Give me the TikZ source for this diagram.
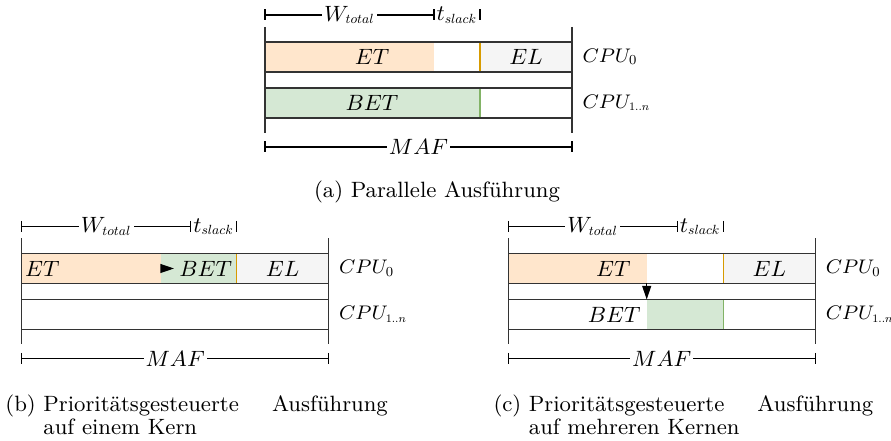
\documentclass[tikz,border=0pt]{standalone}
\usepackage{graphicx}
\usetikzlibrary{arrows.meta}
\definecolor{etfill}{HTML}{FFE6CC}
\definecolor{etline}{HTML}{D79B00}
\definecolor{betfill}{HTML}{D5E8D4}
\definecolor{betline}{HTML}{82B366}
\definecolor{elfill}{HTML}{F5F5F5}
\definecolor{edge}{HTML}{333333}

\tikzset{
  frame/.style={draw=edge, line width=0.6pt},
  dimline/.style={draw=black, line width=0.5pt},
  dimtick/.style={draw=black, line width=0.5pt},
  dimlabel/.style={fill=white, inner sep=0.8pt, font=\small},
  cpulabel/.style={anchor=west, inner sep=0pt, font=\fontsize{8.3}{10}\selectfont},
  tasklabel/.style={inner sep=0pt, font=\small},
  caption/.style={inner sep=0pt, font=\small},
  tiparrow/.style={-{Triangle[length=5.5pt,width=3.6pt]}, line width=0.5pt},
}

% compact subscript made from the base-size italic font
\newcommand{\subtxt}[2][0.6]{\scalebox{#1}{$#2$}}

% caption with hanging label: #1 label, #2 first line, #3 second line
\newcommand{\subcap}[3]{%
  #1~\parbox[t]{140pt}{\baselineskip=9pt #2\\#3}}

% common frame of one schedule: bounds, two CPU rows, dimensions, labels
\newcommand{\schedframe}[1]{%
  \draw[frame] (0,27) -- (0,133);
  \draw[frame] (307,27) -- (307,133);
  \draw[frame] (0,42) -- (307,42);
  \draw[frame] (0,72) -- (307,72);
  \draw[frame] (0,88) -- (307,88);
  \draw[frame] (0,118) -- (307,118);
  \coordinate (#1-w0) at (0,15);
  \coordinate (#1-w1) at (169,15);
  \coordinate (#1-w2) at (215,15);
  \draw[dimline] (#1-w0) -- node[dimlabel] (#1-wl) {$W_{\subtxt{total}}$} (#1-w1);
  \draw[dimline] (#1-w1) -- node[dimlabel] (#1-sl) {$t_{\subtxt{slack}}$} (#1-w2);
  \coordinate (#1-m0) at (0,147);
  \coordinate (#1-m1) at (307,147);
  \draw[dimline] (#1-m0) -- node[dimlabel] (#1-ml) {$MAF$} (#1-m1);
  % end ticks of the dimension lines, drawn above the labels
  \foreach \p in {w0,w1,w2,m0,m1}
    \draw[dimtick] (#1-\p) ++(0,-5.5) -- ++(0,11);
  \node[cpulabel] (#1-cpu0) at (317,57) {$CPU_{\subtxt[0.7]{0}}$};
  \node[cpulabel] (#1-cpu1) at (317,103) {$CPU_{\subtxt[0.58]{1..n}}$};
}

\begin{document}
\begin{tikzpicture}[x=0.4065pt, y=-0.4065pt]
\useasboundingbox (0,0) rectangle (891,441);

% (a) parallel execution
\begin{scope}[shift={(265,0)}]
  \fill[etfill] (0,42) rectangle (169,72);
  \fill[elfill] (215,42) rectangle (307,72);
  \draw[etline, line width=0.6pt] (215,42) -- (215,72);
  \fill[betfill] (0,88) rectangle (215,118);
  \draw[betline, line width=0.6pt] (215,88) -- (215,118);
  \schedframe{a}
  \node[tasklabel] (a-et) at (107,57) {$ET$};
  \node[tasklabel] (a-el) at (261,57) {$EL$};
  \node[tasklabel] (a-bet) at (107,103) {$BET$};
\end{scope}
\node[caption, anchor=base] (capa) at (437,197.5) {(a) Parallele Ausführung};

% (b) priority-driven execution on one core
\begin{scope}[shift={(21.7,211.5)}]
  \fill[etfill] (0,42) rectangle (139.3,72);
  \fill[betfill] (139.3,42) rectangle (215,72);
  \fill[elfill] (215,42) rectangle (307,72);
  \draw[etline, line width=0.6pt] (215,42) -- (215,72);
  \schedframe{b}
  \node[tasklabel, anchor=west] (b-et) at (3,57) {$ET$};
  \node[tasklabel, anchor=east] (b-bet) at (211,57) {$BET$};
  \node[tasklabel] (b-el) at (261,57) {$EL$};
  \coordinate (b-a0) at (139.3,57);
  \coordinate (b-a1) at (152.3,57);
  \draw[tiparrow] (b-a0) -- (b-a1);
\end{scope}
\node[caption, anchor=base west] (capb) at (5,412)
  {\subcap{(b)}{Prioritätsgesteuerte\hfill Ausführung}{auf einem Kern}};

% (c) priority-driven execution on several cores
\begin{scope}[shift={(508.3,211.5)}]
  \fill[etfill] (0,42) rectangle (138.4,72);
  \fill[elfill] (215,42) rectangle (307,72);
  \draw[etline, line width=0.6pt] (215,42) -- (215,72);
  \fill[betfill] (138.4,88) rectangle (215,118);
  \draw[betline, line width=0.6pt] (215,88) -- (215,118);
  \schedframe{c}
  \node[tasklabel] (c-et) at (105,57) {$ET$};
  \node[tasklabel] (c-bet) at (106,103) {$BET$};
  \node[tasklabel] (c-el) at (261,57) {$EL$};
  \coordinate (c-a0) at (138.4,72);
  \coordinate (c-a1) at (138.4,88);
  \draw[tiparrow] (c-a0) -- (c-a1);
\end{scope}
\node[caption, anchor=base west] (capc) at (493,412)
  {\subcap{(c)}{Prioritätsgesteuerte\hfill Ausführung}{auf mehreren Kernen}};
\end{tikzpicture}
\end{document}
